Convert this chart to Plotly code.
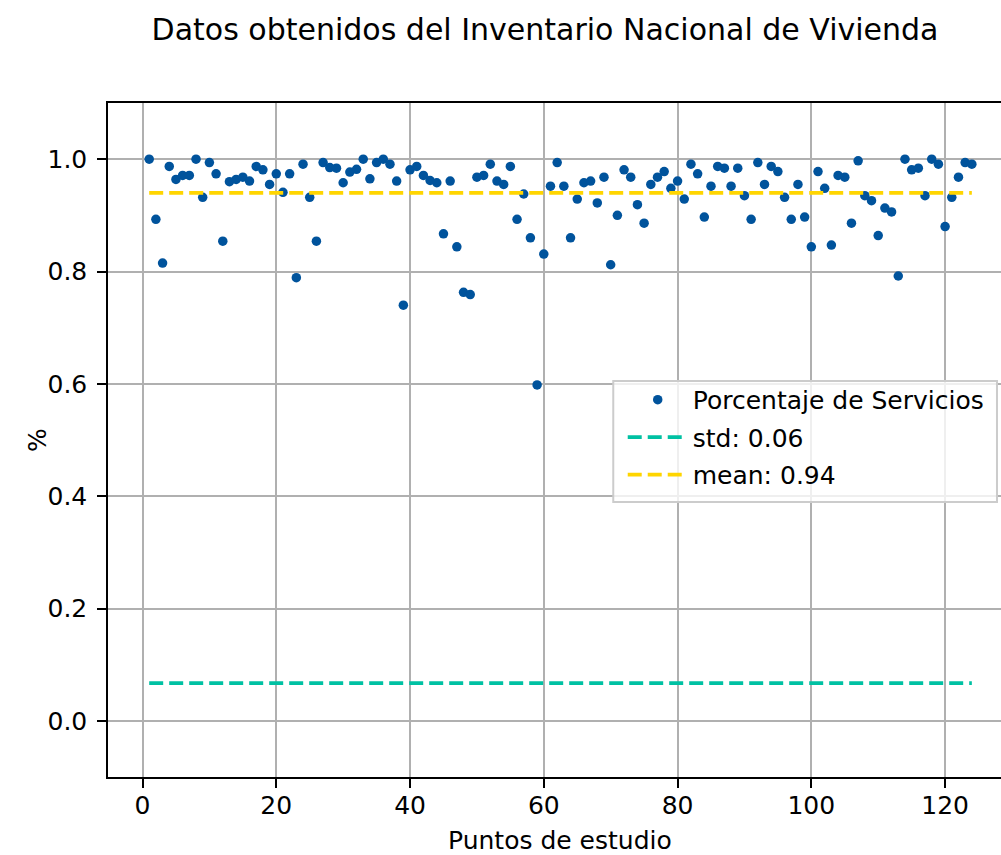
import plotly.graph_objects as go

# Datos
puntos = list(range(1, 125))
porcentaje = [
    1.000, 0.893, 0.815, 0.987, 0.964, 0.971, 0.971, 1.000, 0.932, 0.994,
    0.974, 0.854, 0.960, 0.964, 0.968, 0.961, 0.987, 0.981, 0.955, 0.974,
    0.941, 0.974, 0.789, 0.991, 0.932, 0.854, 0.994, 0.985, 0.984, 0.958,
    0.977, 0.982, 1.000, 0.965, 0.994, 1.000, 0.991, 0.961, 0.740, 0.981,
    0.987, 0.971, 0.962, 0.958, 0.867, 0.961, 0.844, 0.763, 0.759, 0.968,
    0.971, 0.991, 0.961, 0.955, 0.987, 0.893, 0.938, 0.860, 0.598, 0.831,
    0.952, 0.994, 0.952, 0.860, 0.929, 0.958, 0.961, 0.922, 0.968, 0.812,
    0.900, 0.981, 0.968, 0.919, 0.886, 0.955, 0.968, 0.978, 0.948, 0.961,
    0.929, 0.991, 0.974, 0.897, 0.952, 0.987, 0.984, 0.952, 0.984, 0.935,
    0.893, 0.994, 0.955, 0.987, 0.978, 0.932, 0.893, 0.955, 0.897, 0.844,
    0.978, 0.948, 0.847, 0.971, 0.968, 0.886, 0.997, 0.935, 0.926, 0.864,
    0.913, 0.906, 0.792, 1.000, 0.981, 0.984, 0.935, 1.000, 0.991, 0.880,
    0.932, 0.968, 0.994, 0.991,
]
std_val = 0.067
mean_val = 0.94
std_label = "std: 0.06"
mean_label = "mean: 0.94"
x_ticks = [0, 20, 40, 60, 80, 100, 120]
y_ticks = [0.0, 0.2, 0.4, 0.6, 0.8, 1.0]

COLOR_PUNTOS = "#00539C"
COLOR_STD = "#00C1A3"
COLOR_MEAN = "#FFD500"
GRID = "#b0b0b0"
FONT = "DejaVu Sans"

fig = go.Figure()

fig.add_trace(go.Scatter(
    x=puntos, y=porcentaje,
    mode="markers",
    name="Porcentaje de Servicios",
    legendgroup="a",
    marker=dict(color=COLOR_PUNTOS, size=9.5, line=dict(width=0)),
))

fig.add_trace(go.Scatter(
    x=[puntos[0], puntos[-1]], y=[std_val, std_val],
    mode="lines",
    name=std_label,
    legendgroup="b",
    line=dict(color=COLOR_STD, width=3.75, dash="14px,6px"),
))

fig.add_trace(go.Scatter(
    x=[puntos[0], puntos[-1]], y=[mean_val, mean_val],
    mode="lines",
    name=mean_label,
    legendgroup="c",
    line=dict(color=COLOR_MEAN, width=3.75, dash="14px,6px"),
))

axis_common = dict(
    showgrid=True, gridcolor=GRID, gridwidth=2,
    zeroline=False,
    showline=True, linecolor="black", linewidth=2,
    ticks="outside", ticklen=8.75, tickwidth=2, tickcolor="black",
    tickfont=dict(family=FONT, size=25, color="black"),
)

fig.update_xaxes(
    range=[-5.16, 128.36],
    tickvals=x_ticks,
    mirror=True,
    ticklabelstandoff=-4,
    **axis_common,
)
fig.update_yaxes(
    range=[-0.1, 1.1],
    tickvals=y_ticks,
    tickformat=".1f",
    mirror=False,
    ticklabelstandoff=5,
    **axis_common,
)

# caja de la leyenda (estilo matplotlib)
fig.add_shape(
    type="rect", xref="paper", yref="paper",
    x0=0.5658, x1=0.9955, y0=0.408, y1=0.5875,
    fillcolor="rgba(255,255,255,0.8)",
    line=dict(color="#cccccc", width=2),
    layer="above",
)

fig.add_annotation(
    text="Puntos de estudio", xref="paper", yref="paper",
    x=0.5064, y=-0.0935, yanchor="middle", showarrow=False,
    font=dict(family=FONT, size=25, color="black"),
)
fig.add_annotation(
    text="%", xref="paper", yref="paper",
    x=-0.0979, y=0.5, textangle=-90, showarrow=False,
    font=dict(family=FONT, size=25, color="black"),
)

fig.update_layout(
    width=1001, height=855,
    paper_bgcolor="white", plot_bgcolor="white",
    font=dict(family=FONT, size=25, color="black"),
    title=dict(
        text="Datos obtenidos del Inventario Nacional de Vivienda",
        font=dict(family=FONT, size=30, color="black"),
        xref="container", yref="container",
        x=0.5445, y=0.965, xanchor="center", yanchor="middle",
    ),
    margin=dict(l=107.5, r=0, t=103, b=78),
    showlegend=True,
    legend=dict(
        x=0.5764, y=0.5936, xanchor="left", yanchor="top",
        bgcolor="rgba(0,0,0,0)", borderwidth=0,
        font=dict(family=FONT, size=25, color="black"),
        itemwidth=60, tracegroupgap=2,
    ),
)

# sin margen del body para que la figura llene la ventana
fig.write_html(
    "out.html",
    config={"displayModeBar": False},
    post_script="document.body.style.margin='0';",
)
